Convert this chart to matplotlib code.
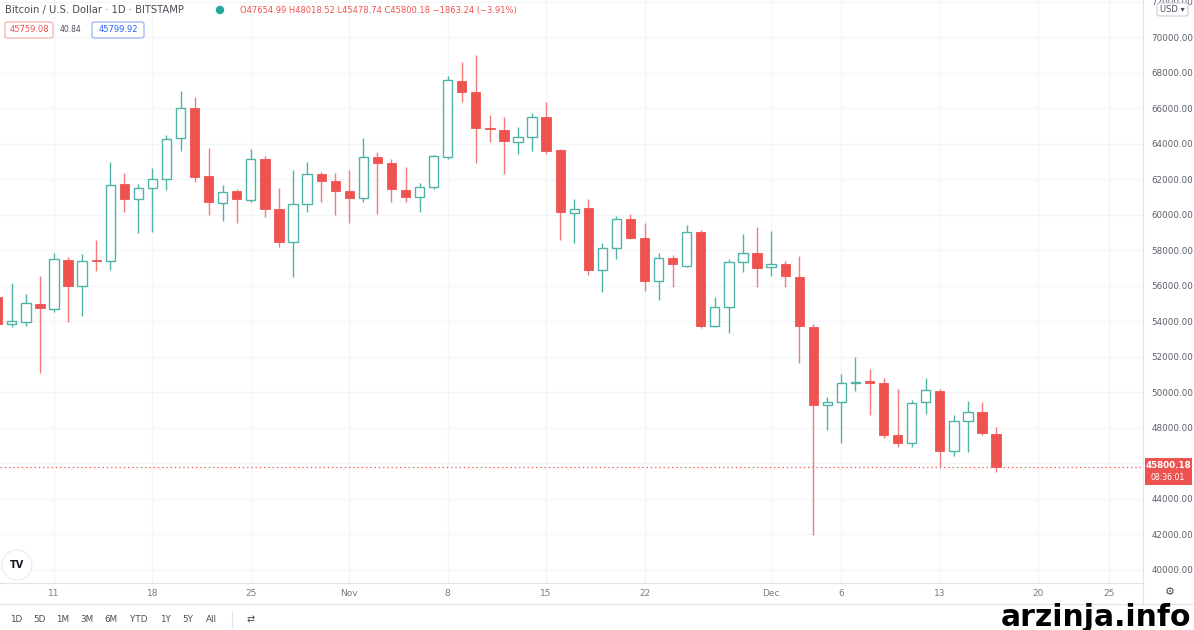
import matplotlib
matplotlib.use("Agg")
import matplotlib.pyplot as plt
import matplotlib.dates as mdates
from matplotlib.patches import FancyBboxPatch, Rectangle, Ellipse
from matplotlib.lines import Line2D
import pandas as pd

# ---------------- data ----------------
start_date = "2021-10-07"
opens = [55350, 53830, 53944, 54958, 54680, 57440, 55970, 57400, 57380, 61720,
         60870, 61490, 62000, 64310, 66000, 62170, 60650, 61320, 60820, 63130,
         60310, 58450, 60590, 62280, 61890, 61320, 60930, 63240, 62900, 61380,
         60990, 61550, 63240, 67520, 66900, 64870, 64760, 64080, 64370, 65490,
         63640, 60080, 60370, 56870, 58110, 59750, 58680, 56260, 57550, 57100,
         59010, 53720, 54790, 57320, 57830, 57040, 57210, 56480, 53660, 49270,
         49440, 50510, 50620, 50510, 47580, 47130, 49440, 50060, 46680, 48370,
         48870, 47654.99]
highs = [55500, 56140, 55520, 56535, 57830, 57600, 57775, 58560, 62960, 62340,
         61720, 62620, 64480, 66960, 66620, 63750, 61660, 61440, 63690, 63300,
         61500, 62500, 62960, 62390, 62340, 62510, 64310, 63520, 63130, 62680,
         61770, 63350, 67800, 68590, 68990, 65600, 65490, 64930, 65720, 66340,
         63700, 60870, 60900, 58390, 59920, 60030, 59520, 57830, 57720, 59410,
         59130, 55350, 57490, 58900, 59300, 59070, 57380, 57660, 53830, 49720,
         51010, 51970, 51300, 50790, 50170, 49550, 50790, 50170, 48700, 49490,
         49440, 48018.52]
lows = [53500, 53660, 53700, 51070, 54500, 53940, 54280, 56830, 56870, 60140,
        58960, 59010, 61380, 63580, 61830, 59970, 59630, 59520, 60700, 59860,
        58170, 56480, 60140, 60700, 59970, 59520, 60700, 60030, 60700, 60700,
        60140, 61450, 63100, 66340, 62900, 64080, 62280, 63410, 63580, 63410,
        58560, 58390, 56590, 55630, 57490, 58620, 55690, 55180, 55920, 57040,
        53610, 53660, 53320, 56760, 55920, 56540, 55920, 51630, 41940, 47860,
        47130, 50060, 48700, 47410, 46900, 46900, 48760, 45770, 46390, 46620,
        47600, 45478.74]
closes = [53830, 54000, 55014, 54732, 57500, 55970, 57380, 57360, 61660, 60870,
          61490, 62000, 64250, 66000, 62110, 60700, 61270, 60870, 63130, 60310,
          58450, 60590, 62280, 61890, 61320, 60930, 63240, 62900, 61440, 60990,
          61550, 63300, 67580, 66900, 64870, 64820, 64140, 64370, 65490, 63580,
          60140, 60310, 56870, 58110, 59750, 58680, 56260, 57550, 57210, 59010,
          53720, 54790, 57320, 57830, 56990, 57210, 56540, 53720, 49270, 49440,
          50510, 50560, 50510, 47580, 47130, 49380, 50110, 46680, 48370, 48870,
          47690, 45800.18]

x_tick_dates = ["2021-10-11", "2021-10-18", "2021-10-25", "2021-11-01", "2021-11-08",
                "2021-11-15", "2021-11-22", "2021-12-01", "2021-12-06", "2021-12-13",
                "2021-12-20", "2021-12-25"]
x_tick_labels = ["11", "18", "25", "Nov", "8", "15", "22", "Dec", "6", "13", "20", "25"]
y_ticks = list(range(40000, 72001, 2000))
hidden_y_label = 46000          # covered by the last-price tag
last_price = 45800.18
last_price_text = "45800.18"
countdown_text = "08:36:01"

# ---------------- styling ----------------
UP = "#4fb3a7"
DOWN = "#ef5350"
GRID = "#f4f5f8"
TXT = "#787b86"
W, H = 1194, 630

fig = plt.figure(figsize=(W / 100, H / 100), dpi=100)
fig.patch.set_facecolor("white")

def fx(x):
    return x / W

def fy(y):
    return 1 - y / H

plot_right = 1143
plot_bottom = 583
ax = fig.add_axes([0, fy(plot_bottom), fx(plot_right), plot_bottom / H])
ax.set_facecolor("white")

dates = pd.date_range(start_date, periods=len(opens), freq="D")
xd = mdates.date2num(dates.to_pydatetime())
d0 = mdates.date2num(pd.Timestamp(start_date).to_pydatetime())
ax.set_xlim(d0 + 0.16, d0 + 81.45)
ax.set_ylim(39240, 72085)

# grid
tick_nums = mdates.date2num(pd.to_datetime(x_tick_dates).to_pydatetime())
for t in tick_nums:
    ax.axvline(t, color=GRID, lw=1.0, zorder=0)
for v in y_ticks:
    ax.axhline(v, color=GRID, lw=1.0, zorder=0)

# candles
bw = 0.66
for x, o, h, l, c in zip(xd, opens, highs, lows, closes):
    up = c >= o
    col = UP if up else DOWN
    wick_col = UP if up else "#f27a78"
    top, bot = max(o, c), min(o, c)
    hgt = max(top - bot, 70)
    ax.vlines(x, top, h, color=wick_col, lw=1.0, zorder=2)
    ax.vlines(x, l, bot, color=wick_col, lw=1.0, zorder=2)
    if up:
        ax.add_patch(Rectangle((x - bw / 2, bot), bw, hgt, facecolor="white",
                               edgecolor=col, lw=1.0, zorder=3))
    else:
        ax.add_patch(Rectangle((x - bw / 2, bot), bw, hgt, facecolor=col,
                               edgecolor=col, lw=0.6, zorder=3))

# last price line
ax.axhline(last_price, color=DOWN, lw=0.9, ls=(0, (1.2, 2.2)), alpha=0.9, zorder=1)

# axes styling
ax.set_xticks(tick_nums)
ax.set_xticklabels(x_tick_labels, fontsize=6.5, color=TXT)
ax.tick_params(axis="x", length=0, pad=4)
ax.yaxis.tick_right()
ax.set_yticks(y_ticks)
ax.set_yticklabels(["" if v == hidden_y_label else f"{v:.2f}" for v in y_ticks],
                   fontsize=6.3, color="#5d606b")
ax.tick_params(axis="y", length=0, pad=6)
for s in ["top", "left"]:
    ax.spines[s].set_visible(False)
ax.spines["right"].set_color("#e0e3eb")
ax.spines["bottom"].set_color("#e0e3eb")
ax.spines["right"].set_linewidth(0.8)
ax.spines["bottom"].set_linewidth(0.8)

# separator line above toolbar
fig.add_artist(Line2D([0, 1], [fy(604), fy(604)], color="#e0e3eb", lw=0.8))
fig.add_artist(Line2D([fx(plot_right), fx(plot_right)], [fy(583), fy(604)],
                      color="#e0e3eb", lw=0.8))

# header
fig.text(fx(5), fy(10), "Bitcoin / U.S. Dollar · 1D · BITSTAMP", fontsize=7.2,
         color="#4a4d57", ha="left", va="center")
fig.add_artist(Ellipse((fx(220), fy(10)), fx(7), 7 / H, transform=fig.transFigure,
                       color="#26a69a"))
fig.text(fx(240), fy(10), "O47654.99 H48018.52 L45478.74 C45800.18 \u22121863.24 (\u22123.91%)",
         fontsize=6.0, color=DOWN, ha="left", va="center")

def boxed(x0, x1, y0, y1, text, ec, tc):
    fig.add_artist(FancyBboxPatch((fx(x0), fy(y1)), fx(x1 - x0), (y1 - y0) / H,
                                  boxstyle="round,pad=0,rounding_size=0.003",
                                  transform=fig.transFigure, facecolor="white",
                                  edgecolor=ec, lw=0.8))
    fig.text(fx((x0 + x1) / 2), fy((y0 + y1) / 2), text, fontsize=6.0, color=tc,
             ha="center", va="center")

boxed(5, 53, 22, 38, "45759.08", "#f7a5a4", DOWN)
fig.text(fx(70), fy(30), "40.84", fontsize=5.5, color="#4a4d57", ha="center", va="center")
boxed(92, 144, 22, 38, "45799.92", "#8fa8f5", "#2962ff")

# USD box top right
boxed(1157, 1188, 3, 16, "USD \u25be", "#c8cbd3", "#4a4d57")

# last price label on axis
fig.add_artist(Rectangle((fx(1145), fy(485)), fx(47), 27 / H, transform=fig.transFigure,
                         facecolor=DOWN, edgecolor="none"))
fig.text(fx(1168), fy(465), last_price_text, fontsize=6.3, color="white", ha="center",
         va="center", fontweight="bold")
fig.text(fx(1168), fy(478), countdown_text, fontsize=5.6, color="white", ha="center",
         va="center")

# settings gear
fig.text(fx(1170), fy(592), "\u2699", fontsize=8, color="#4a4d57", ha="center", va="center")

# TV logo
fig.add_artist(Ellipse((fx(17), fy(565)), fx(30), 30 / H, transform=fig.transFigure,
                       facecolor="white", edgecolor="#e6e6e6", lw=0.6))
fig.text(fx(17), fy(565), "TV", fontsize=7, fontweight="bold", color="#131722",
         ha="center", va="center")

# bottom toolbar
toolbar = ["1D", "5D", "1M", "3M", "6M", "YTD", "1Y", "5Y", "All"]
toolbar_x = [16, 39, 63, 87, 111, 139, 165, 188, 211]
for lab, xx in zip(toolbar, toolbar_x):
    fig.text(fx(xx), fy(619), lab, fontsize=6.3, color="#4a4d57", ha="center", va="center")
fig.add_artist(Line2D([fx(232), fx(232)], [fy(611), fy(627)], color="#e0e3eb", lw=0.8))
fig.text(fx(251), fy(619), "\u21c4", fontsize=7, color="#4a4d57", ha="center", va="center")

# watermark
fig.text(fx(1191), fy(626), "arzinja.info", fontsize=21.5, fontweight="bold",
         color="black", ha="right", va="baseline")

fig.savefig("out.png", dpi=100, facecolor="white")
